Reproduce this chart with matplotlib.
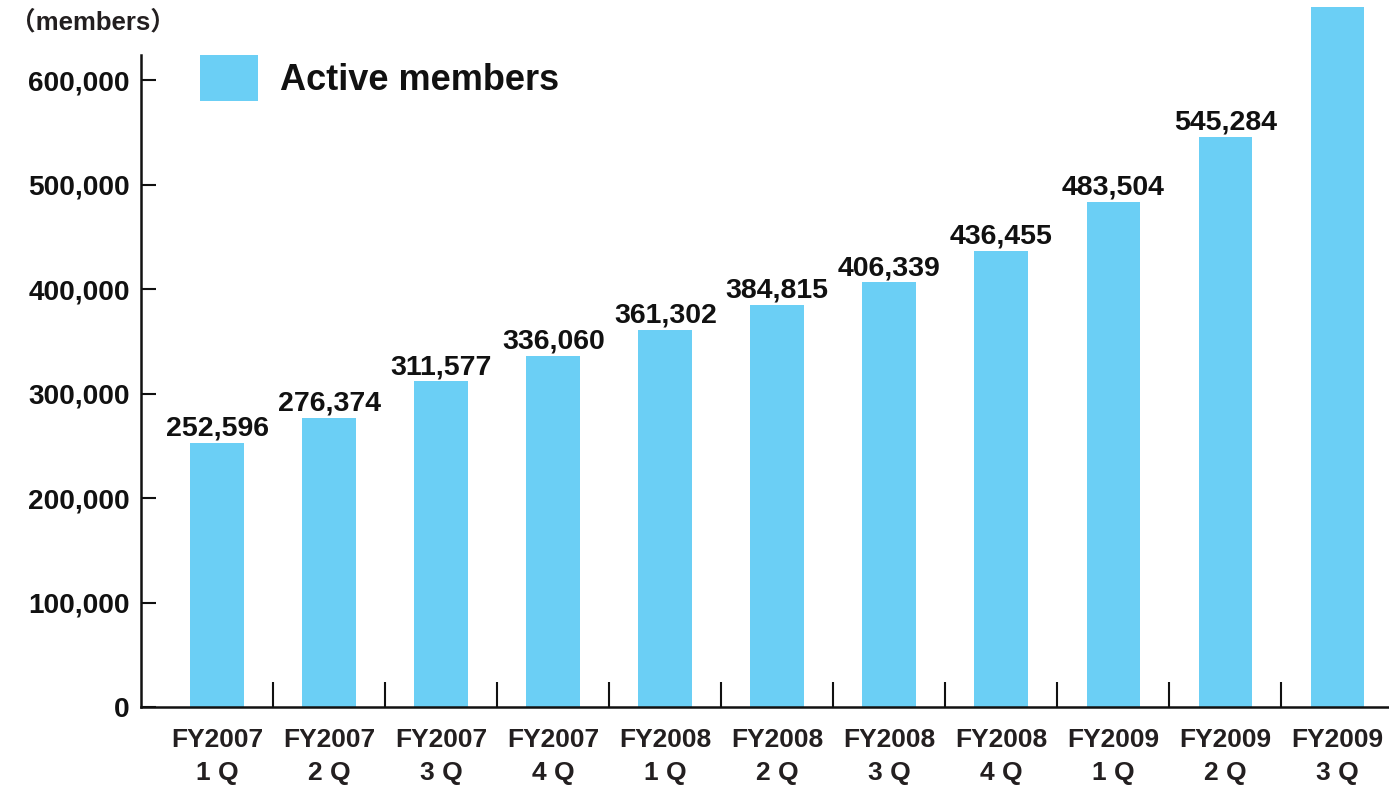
import matplotlib
matplotlib.use("Agg")
import matplotlib.pyplot as plt
from matplotlib.ticker import FuncFormatter

plt.rcParams['font.family'] = ['Liberation Sans', 'DejaVu Sans']

quarters = ["FY2007\n1 Q", "FY2007\n2 Q", "FY2007\n3 Q", "FY2007\n4 Q",
            "FY2008\n1 Q", "FY2008\n2 Q", "FY2008\n3 Q", "FY2008\n4 Q",
            "FY2009\n1 Q", "FY2009\n2 Q", "FY2009\n3 Q"]
active_members = [252596, 276374, 311577, 336060, 361302, 384815,
                  406339, 436455, 483504, 545284, 690000]
value_labels = ["252,596", "276,374", "311,577", "336,060", "361,302", "384,815",
                "406,339", "436,455", "483,504", "545,284", ""]
y_ticks = [0, 100000, 200000, 300000, 400000, 500000, 600000]

BAR = "#6bcff5"
INK = "#111111"
GREY = "#231f20"

fig = plt.figure(figsize=(13.89, 7.85), dpi=100)
ax = fig.add_axes([141 / 1389, 78 / 785, 1 - 141 / 1389, 700 / 785])

x = list(range(len(quarters)))
bars = ax.bar(x, active_members, width=0.48, color=BAR, label="Active members", zorder=2)

for xi, v, lab in zip(x, active_members, value_labels):
    if lab:
        ax.annotate(lab, (xi, v), xytext=(0, 1), textcoords="offset points",
                    ha="center", va="bottom", fontsize=20.5, fontweight="bold",
                    color=INK)

ax.set_xlim(-0.68, 10.46)
ax.set_ylim(0, 670000)

for s in ("top", "right"):
    ax.spines[s].set_visible(False)
ax.spines["left"].set_bounds(0, 624000)
for s in ("left", "bottom"):
    ax.spines[s].set_linewidth(1.8)
    ax.spines[s].set_color(INK)

ax.set_yticks(y_ticks)
ax.yaxis.set_major_formatter(FuncFormatter(lambda v, p: f"{int(v):,}"))
ax.tick_params(axis="y", direction="in", length=11, width=1.5, pad=8,
               labelsize=20.2, colors=INK)
for t in ax.get_yticklabels():
    t.set_fontweight("bold")

# category boundaries as inward ticks, labels centred under bars
ax.set_xticks([i + 0.5 for i in range(len(quarters) - 1)])
ax.set_xticklabels([])
ax.tick_params(axis="x", which="major", direction="in", length=18, width=1.5, color=INK)
ax.set_xticks(x, minor=True)
ax.set_xticklabels(quarters, minor=True)
ax.tick_params(axis="x", which="minor", length=0, pad=15, labelsize=19, labelcolor=GREY)
for t in ax.get_xticklabels(minor=True):
    t.set_fontweight("bold")
    t.set_linespacing(1.5)

fig.text(10 / 1389, 1 - 22 / 785, "\uff08members\uff09", fontsize=18.5, fontweight="bold",
         color=GREY, ha="left", va="center",
         family=["Liberation Sans", "Noto Sans CJK JP", "DejaVu Sans"])

leg = ax.legend(handles=[bars], loc="upper left",
                bbox_to_anchor=(59 / 1248, 652 / 700), frameon=False,
                prop={"weight": "bold", "size": 26},
                handlelength=1.6, handleheight=1.6, handletextpad=0.62,
                borderpad=0, borderaxespad=0)
for t in leg.get_texts():
    t.set_color(INK)

fig.savefig("out.png", dpi=100)
